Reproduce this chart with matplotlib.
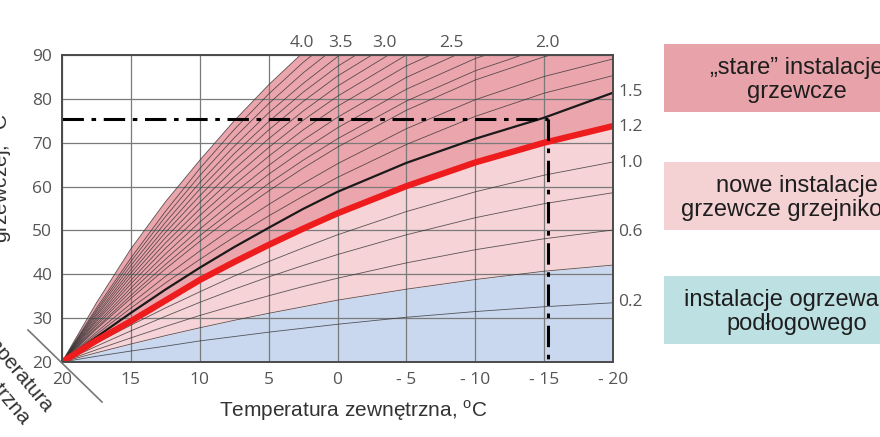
import matplotlib
matplotlib.use("Agg")
import matplotlib.pyplot as plt
from matplotlib.patches import Rectangle
from matplotlib.lines import Line2D

# outdoor temperatures where the curves were read
t_out = [20, 17.5, 15, 12.5, 10, 7.5, 5, 2.5, 0, -5, -10, -15, -20]

# heating curve slopes and supply temperatures
# (each curve is read until it leaves the top of the chart)
slopes = [0.2, 0.4, 0.6, 0.8, 1.0, 1.2, 1.5, 1.67, 1.83, 2.0, 2.17, 2.33, 2.5,
          2.67, 2.83, 3.0, 3.17, 3.33, 3.5, 3.67, 3.83, 4.0]
supply = [
    [20, 21.3, 22.5, 23.6, 24.8, 25.8, 26.8, 27.7, 28.6, 30.2, 31.5, 32.6, 33.5],
    [20, 22.1, 24.1, 26.0, 27.8, 29.5, 31.1, 32.6, 34.1, 36.6, 38.8, 40.7, 42.1],
    [20, 22.8, 25.5, 28.1, 30.6, 32.9, 35.1, 37.2, 39.1, 42.6, 45.6, 48.1, 50.1],
    [20, 23.6, 27.1, 30.4, 33.6, 36.6, 39.4, 42.0, 44.5, 49.0, 52.9, 56.1, 58.6],
    [20, 24.3, 28.4, 32.3, 36.0, 39.6, 42.9, 46.0, 49.0, 54.3, 58.8, 62.6, 65.6],
    [20, 24.9, 29.3, 34.0, 38.7, 42.8, 46.7, 50.4, 53.9, 60.1, 65.5, 70.0, 73.8],
    [20, 25.7, 31.2, 36.5, 41.5, 46.2, 50.6, 54.9, 58.8, 65.4, 70.9, 75.7, 81.4],
    [20, 26.3, 32.3, 38.0, 43.4, 48.5, 53.3, 57.8, 62.1, 69.6, 76.0, 81.3, 85.3],
    [20, 26.8, 33.3, 39.5, 45.3, 50.8, 55.9, 60.7, 65.2, 73.2, 79.8, 85.1, 89.1],
    [20, 27.5, 34.5, 41.2, 47.5, 53.5, 59.0, 64.2, 69.0, 77.4, 84.3, 89.6, 93.4],
    [20, 27.8, 35.2, 42.2, 48.8, 54.9, 60.7, 66.0, 70.9, 79.5, 86.4, 91.7],
    [20, 28.3, 36.1, 43.4, 50.3, 56.8, 62.8, 68.3, 73.4, 82.2, 89.2, 94.4],
    [20, 28.7, 36.9, 44.6, 51.9, 58.6, 64.8, 70.6, 75.8, 84.9, 92.0],
    [20, 29.2, 37.8, 45.9, 53.4, 60.4, 66.9, 72.9, 78.3, 87.5, 94.6],
    [20, 29.6, 38.6, 47.1, 54.9, 62.2, 68.9, 75.1, 80.6, 90.0, 97.1],
    [20, 30.0, 39.5, 48.3, 56.4, 64.0, 70.9, 77.2, 82.9, 92.5],
    [20, 30.5, 40.3, 49.5, 57.9, 65.8, 72.9, 79.4, 85.2, 94.8],
    [20, 30.9, 41.1, 50.6, 59.4, 67.5, 74.8, 81.5, 87.4, 97.1],
    [20, 31.4, 42.0, 51.8, 60.9, 69.2, 76.8, 83.5, 89.6, 99.3],
    [20, 31.8, 42.9, 53.1, 62.5, 71.1, 78.9, 85.9, 92.1],
    [20, 32.3, 43.7, 54.3, 64.1, 73.0, 81.1, 88.3, 94.6],
    [20, 33.5, 45.8, 56.5, 66.0, 75.0, 83.2, 90.6],
]

top_labels = ["4.0", "3.5", "3.0", "2.5", "2.0"]
top_label_x = [2.6, -0.2, -3.4, -8.3, -15.2]
right_labels = ["1.5", "1.2", "1.0", "0.6", "0.2"]
right_label_y = [81.6, 73.6, 65.4, 49.6, 33.7]

design_outdoor = -15.3
design_supply = 75.5

x_ticks = [20, 15, 10, 5, 0, -5, -10, -15, -20]
x_tick_labels = ["20", "15", "10", "5", "0", "- 5", "- 10", "- 15", "- 20"]
y_ticks = [20, 30, 40, 50, 60, 70, 80, 90]

legend_texts = ["\u201estare\u201d instalacje\ngrzewcze",
                "nowe instalacje\ngrzewcze grzejnikowe",
                "instalacje ogrzewania\npodłogowego"]
legend_colors = ["#e8a3aa", "#f4d2d3", "#bde0e3"]

W, H = 880, 437
fig = plt.figure(figsize=(W / 100, H / 100), dpi=100)
ax = fig.add_axes([62 / W, 1 - 362 / H, (613 - 62) / W, (362 - 55) / H])

s = dict(zip(slopes, supply))
floor = [20] * len(t_out)
ax.fill_between(t_out, floor, s[0.4], color="#c9d8ef", lw=0, zorder=0)
ax.fill_between(t_out, s[0.4], s[1.2], color="#f6d3d6", lw=0, zorder=0)
top = s[4.0]
n = len(top)
xs = t_out[:n] + [t_out[-1]] + t_out[::-1]
ys = top + [top[-1]] + s[1.2][::-1]
ax.fill(xs, ys, color="#eba5ad", lw=0, zorder=0)

ax.set_xticks(x_ticks)
ax.set_yticks(y_ticks)
ax.grid(True, color="#7a7a7a", lw=0.9, zorder=1)

for k, vals in zip(slopes, supply):
    xv = t_out[:len(vals)]
    if k == 1.2:
        ax.plot(xv, vals, color="#ee1c1c", lw=4.5, zorder=5, solid_capstyle="butt")
    elif k == 1.5:
        ax.plot(xv, vals, color="#1a1a1a", lw=1.6, zorder=4)
    else:
        ax.plot(xv, vals, color="#333333", lw=0.6, alpha=0.8, zorder=3)

dash = (0, (7, 2.5, 1.5, 2.5))
ax.plot([20, design_outdoor], [design_supply, design_supply], color="black",
        lw=2.2, ls=dash, zorder=6)
ax.plot([design_outdoor, design_outdoor], [design_supply, 20], color="black",
        lw=2.2, ls=dash, zorder=6)

ax.set_xlim(20, -20)
ax.set_ylim(20, 90)
for sp in ax.spines.values():
    sp.set_color("#4a4a4a")
    sp.set_linewidth(1.4)
    sp.set_zorder(7)
ax.tick_params(length=0, pad=7, labelsize=12.5, labelcolor="#555555")
ax.set_xticklabels(x_tick_labels)
for lab in ax.get_xticklabels() + ax.get_yticklabels():
    lab.set_family("Open Sans")

for lab, x in zip(top_labels, top_label_x):
    ax.text(x, 92.8, lab, ha="center", va="center", fontsize=12.5,
            color="#555555", family="Open Sans", clip_on=False)
for lab, y in zip(right_labels, right_label_y):
    ax.text(-20.4, y, lab, ha="left", va="center", fontsize=12.5,
            color="#555555", family="Open Sans", clip_on=False)

fig.text(353 / W, 1 - 411 / H, "Temperatura zewnętrzna, $^{\\mathregular{o}}$C",
         ha="center", va="center", fontsize=15, color="#333333",
         family="Liberation Sans")
fig.text(-0.011, 1 - 178 / H, "Temperatura wody\ngrzewczej, $^{\\mathregular{o}}$C",
         rotation=90, ha="center", va="center", fontsize=15, color="#333333",
         family="Liberation Sans", multialignment="center")
fig.text(45 / W, 1 - 413 / H, "Temperatura", rotation=-50, ha="right",
         va="baseline", rotation_mode="anchor", fontsize=15, color="#333333",
         family="Liberation Sans")
fig.text(22 / W, 1 - 425 / H, "wewnętrzna", rotation=-50, ha="right",
         va="baseline", rotation_mode="anchor", fontsize=15, color="#333333",
         family="Liberation Sans")
fig.add_artist(Line2D([28 / W, 102 / W], [1 - 330 / H, 1 - 402 / H],
                      transform=fig.transFigure, color="#777777", lw=1.2))

box_tops = [44, 162, 276]
for txt, col, top_px in zip(legend_texts, legend_colors, box_tops):
    fig.add_artist(Rectangle((664 / W, 1 - (top_px + 68) / H), 240 / W, 68 / H,
                             transform=fig.transFigure, color=col, lw=0))
    fig.text(797 / W, 1 - (top_px + 36) / H, txt, ha="center", va="center",
             fontsize=17, color="#1e1e1e", family="Liberation Sans",
             linespacing=1.1)

fig.savefig("out.png", dpi=100)
